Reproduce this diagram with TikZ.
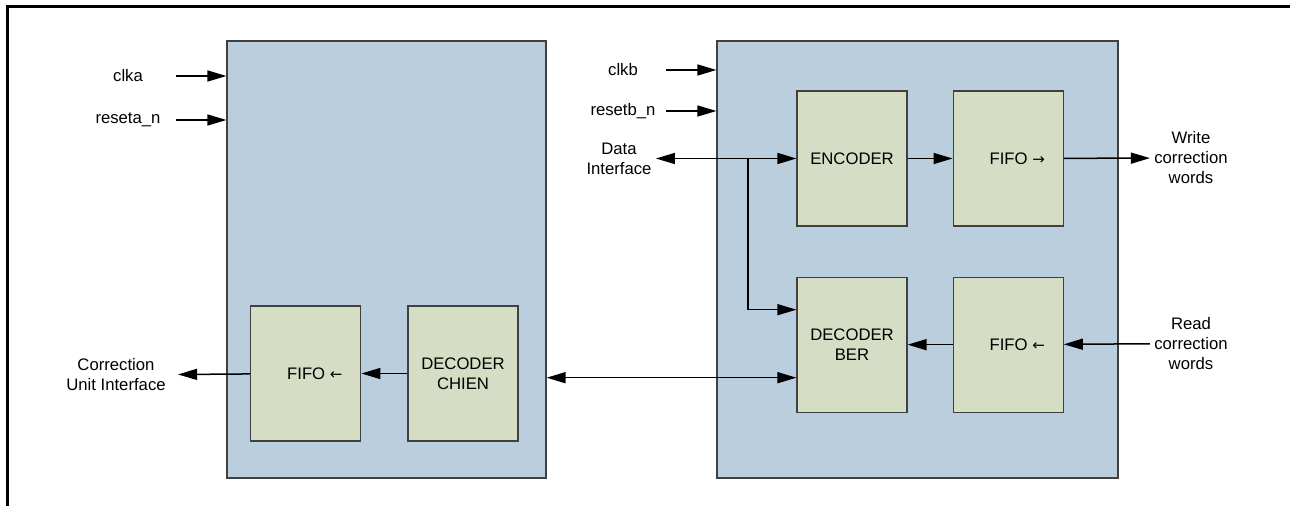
\documentclass[tikz,border=0pt]{standalone}
\usepackage{fontspec}
\setmainfont{Liberation Sans}
\newfontfamily\arrowfont{DejaVu Sans}
\usepackage{tikz}
\usetikzlibrary{arrows.meta,positioning}
\definecolor{chipblue}{HTML}{BBCEDE}
\definecolor{unitgreen}{HTML}{D5DDC5}
\definecolor{edgegray}{HTML}{404040}
\newcommand{\fifoto}{{\arrowfont\fontsize{7.5}{10}\selectfont →}}
\newcommand{\fifofrom}{{\arrowfont\fontsize{7.5}{10}\selectfont ←}}
\tikzset{
  >={Triangle[length=9.5pt, width=5.5pt]},
  chip/.style={draw=edgegray, line width=0.6pt, fill=chipblue, minimum height=218.5pt},
  unit/.style={draw=edgegray, line width=0.6pt, fill=unitgreen, align=center, minimum width=55pt, minimum height=67.5pt, inner sep=1pt},
  sig/.style={align=center, inner sep=2pt},
  wire/.style={line width=0.75pt},
  frame/.style={line width=1.5pt},
}

\begin{document}
\begin{tikzpicture}[x=0.5pt, y=-0.5pt, node distance=25pt and 22.5pt, font=\fontsize{8.35}{10}\selectfont]
  \useasboundingbox (0,0) rectangle (1290,506);
  \draw[frame] (1290,7) -| (7,506);

  % the two chips
  \node[chip, minimum width=159.5pt] (chipa) at (386.5,259.5) {};
  \node[chip, minimum width=200.5pt] (chipb) at (917.5,259.5) {};

  % units inside chip b
  \node[unit] (enc) at (852,158.5) {ENCODER};
  \node[unit, right=of enc] (fifow) {\hspace*{9pt}FIFO \fifoto};
  \node[unit, below=of enc] (dber) {DECODER\\BER};
  \node[unit, right=of dber] (fifor) {\hspace*{9pt}FIFO \fifofrom};

  % units inside chip a
  \node[unit] (dchien) at (463,373.5) {DECODER\\CHIEN};
  \node[unit, left=23pt of dchien] (fifoa) {\hspace*{9pt}FIFO \fifofrom};

  % signals
  \node[sig] (clka) at (128,76) {clka};
  \node[sig] (reseta) at (128,120) {reseta\_n};
  \node[sig] (clkb) at (623,70) {clkb};
  \node[sig] (resetb) at (623,111) {resetb\_n};
  \node[sig] (dif) at (619,158.5) {Data\\Interface};
  \node[sig] (cui) at (116,375) {Correction\\Unit Interface};
  \node[sig] (wcw) at (1191,158) {Write\\correction\\words};
  \node[sig] (rcw) at (1191,343.5) {Read\\correction\\words};

  \coordinate (srca) at (176,0);
  \coordinate (srcb) at (666,0);
  \coordinate (tap) at (748,0);
  \coordinate (berup) at ([yshift=17.5pt]dber.west);
  \coordinate (berlow) at ([yshift=-16.5pt]dber.west);

  \draw[wire, ->] (srca |- clka) -- (chipa.west |- clka);
  \draw[wire, ->] (srca |- reseta) -- (chipa.west |- reseta);
  \draw[wire, ->] (srcb |- clkb) -- (chipb.west |- clkb);
  \draw[wire, ->] (srcb |- resetb) -- (chipb.west |- resetb);

  \draw[wire, <->] (dif.east) -- (enc.west);
  \draw[wire, ->] (tap |- enc.west) |- (berup);
  \draw[wire, ->] (enc) -- (fifow);
  \draw[wire, ->] (fifow) -- (wcw);
  \draw[wire, ->] (rcw) -- (fifor);
  \draw[wire, ->] (fifor) -- (dber);
  \draw[wire, <->] (chipa.east |- berlow) -- (berlow);
  \draw[wire, ->] (dchien) -- (fifoa);
  \draw[wire, ->, shorten >=4pt] (fifoa) -- (cui);
\end{tikzpicture}
\end{document}
